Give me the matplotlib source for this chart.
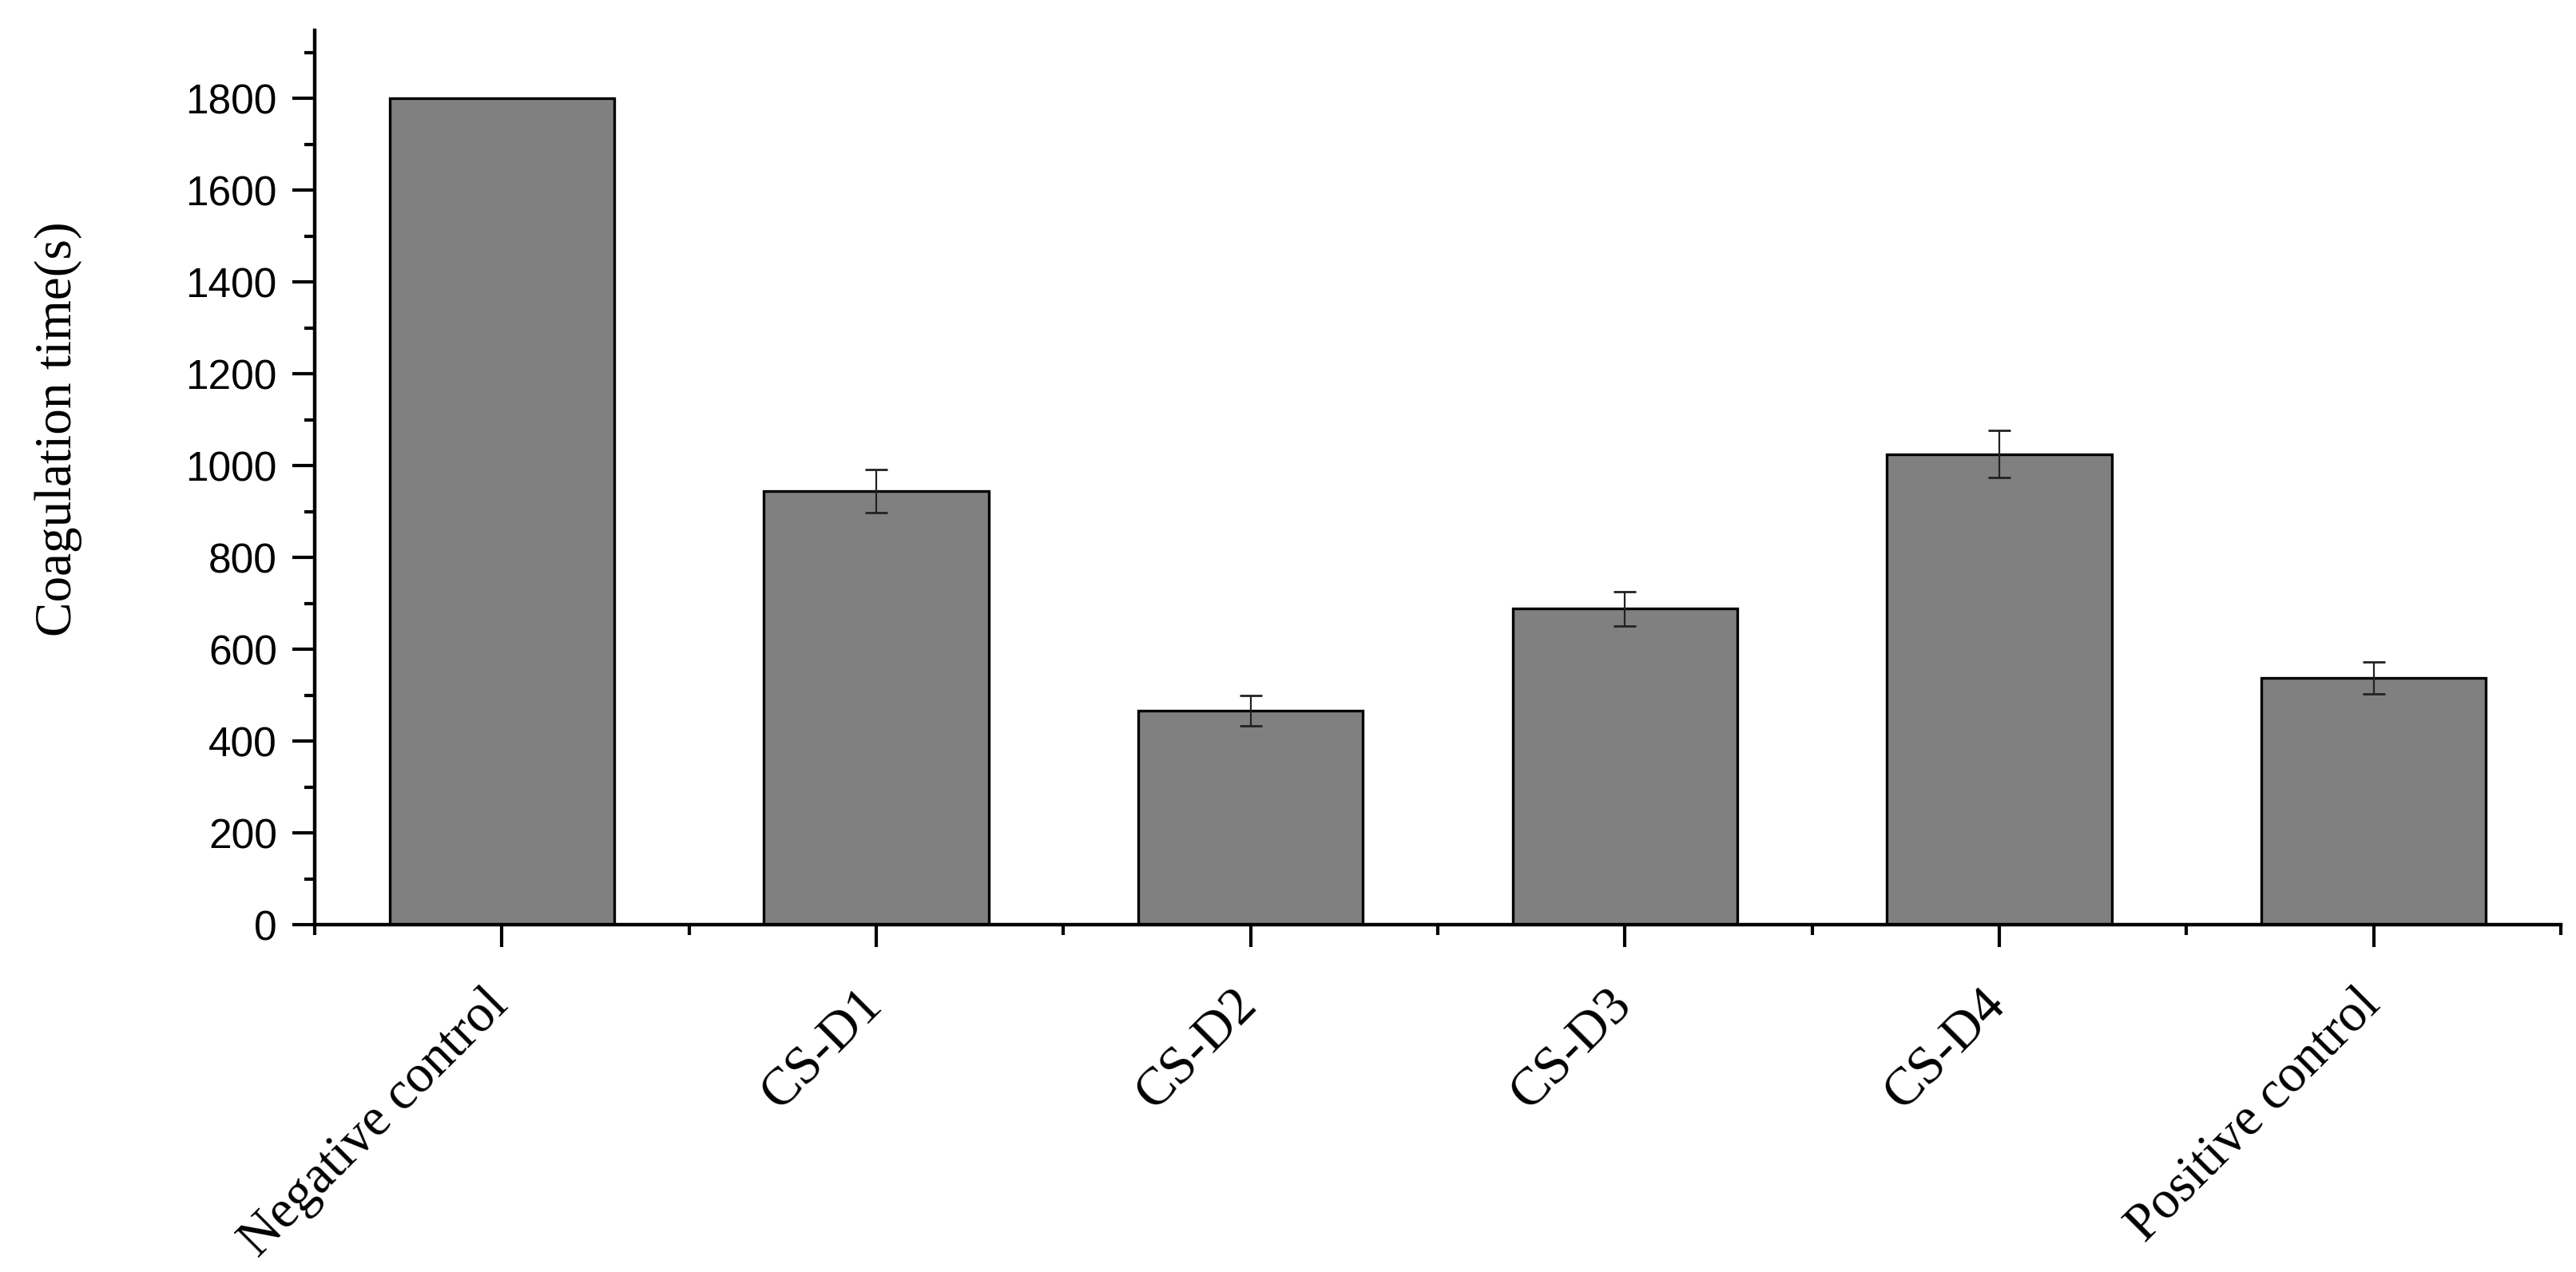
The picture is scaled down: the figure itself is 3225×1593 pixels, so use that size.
import matplotlib
matplotlib.use("Agg")
import matplotlib.pyplot as plt
import matplotlib.transforms as mtransforms
import numpy as np

categories = ["Negative control", "CS-D1", "CS-D2", "CS-D3", "CS-D4", "Positive control"]
values = [1800, 944, 466, 688, 1025, 537]
errors = [0, 47, 33, 37, 51, 35]
yticks = [0, 200, 400, 600, 800, 1000, 1200, 1400, 1600, 1800]

W, H = 3225, 1593
fig = plt.figure(figsize=(W / 100, H / 100), dpi=100)
ax = fig.add_axes([394 / W, 1 - 1158 / H, (3206 - 394) / W, (1158 - 38) / H])

x = np.arange(len(categories))
ax.bar(x, values, width=0.6, color="#808080", edgecolor="black", linewidth=2.4, zorder=2)
mask = np.array(errors) > 0
ax.errorbar(x[mask], np.array(values)[mask], yerr=np.array(errors)[mask], fmt="none",
            ecolor="#222222", elinewidth=1.6, capsize=10, capthick=2.0, zorder=3)

ax.set_xlim(-0.5, len(categories) - 0.5)
ax.set_ylim(0, 1948)

for side in ["top", "right"]:
    ax.spines[side].set_visible(False)
for side in ["left", "bottom"]:
    ax.spines[side].set_linewidth(3.2)

ax.set_yticks(yticks)
ax.set_yticklabels([str(v) for v in yticks], fontfamily="Liberation Sans", fontsize=37)
ax.set_yticks(np.arange(100, 2000, 200), minor=True)
ax.set_xticks(x)
ax.set_xticks(np.arange(-0.5, len(categories), 1.0), minor=True)
ax.set_xticklabels(categories, fontfamily="Liberation Serif", fontsize=48,
                   rotation=45, ha="right", va="top")

ax.tick_params(axis="both", which="major", direction="out", length=20, width=3.0)
ax.tick_params(axis="both", which="minor", direction="out", length=9.5, width=3.0)
ax.tick_params(axis="y", which="major", pad=14)
ax.tick_params(axis="x", which="major", pad=30)

offset = mtransforms.ScaledTranslation(20 / 100, 0, fig.dpi_scale_trans)
for lab in ax.get_xticklabels():
    lab.set_transform(lab.get_transform() + offset)

ax.set_ylabel("Coagulation time(s)", fontfamily="Liberation Serif", fontsize=47)
ax.yaxis.set_label_coords((103 - 394) / 2812, (1158 - 537) / 1120)

fig.savefig("out.png", dpi=100, facecolor="white")
